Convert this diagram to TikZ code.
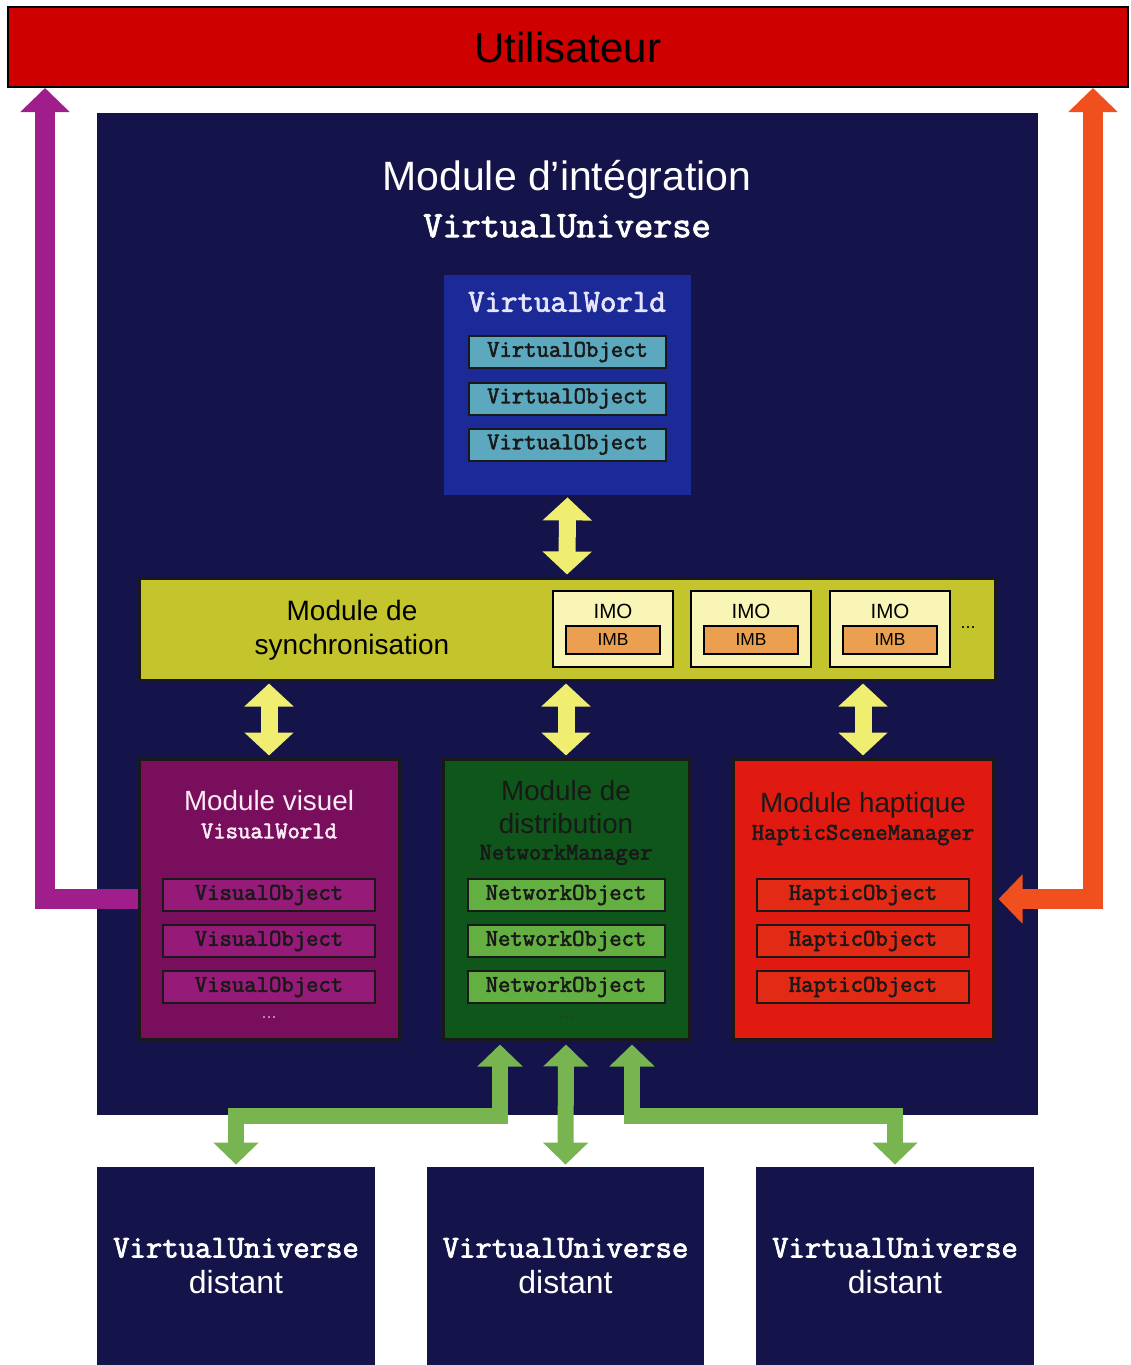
\documentclass[tikz,border=0pt]{standalone}
\usepackage{fontspec}
\setmainfont{Liberation Sans}
\setmonofont{Latin Modern Mono}[AutoFakeBold=2.5]
\usetikzlibrary{arrows.meta}

\definecolor{usrred}{RGB}{206,0,0}
\definecolor{navy}{RGB}{20,20,74}
\definecolor{vwblue}{RGB}{28,42,152}
\definecolor{vobj}{RGB}{92,168,190}
\definecolor{syncol}{RGB}{196,196,44}
\definecolor{imocol}{RGB}{249,245,182}
\definecolor{imbcol}{RGB}{234,160,80}
\definecolor{ylw}{RGB}{240,238,112}
\definecolor{viscol}{RGB}{120,14,92}
\definecolor{visobj}{RGB}{150,26,120}
\definecolor{distcol}{RGB}{14,86,26}
\definecolor{netobj}{RGB}{100,175,66}
\definecolor{hapcol}{RGB}{224,26,16}
\definecolor{hapobj}{RGB}{226,42,20}
\definecolor{purplearr}{RGB}{160,30,140}
\definecolor{orangearr}{RGB}{240,80,30}
\definecolor{greenarr}{RGB}{120,180,80}

\tikzset{
  panel/.style={draw=black!90, line width=1.5pt, inner sep=0pt},
  objbox/.style={draw=black!90, line width=1pt, inner sep=0pt,
    minimum height=16pt, text=black!90,
    font=\ttfamily\bfseries\fontsize{12}{14}\selectfont},
  lbl/.style={inner sep=0pt},
  sanstitle/.style={lbl, font=\fontsize{13.9}{16}\selectfont},
  monotitle/.style={lbl, font=\ttfamily\bfseries\fontsize{12}{14}\selectfont},
  yarrow/.style={draw=ylw, line width=8.5pt, line join=miter,
    {Triangle[width=24pt,length=11.5pt]}-{Triangle[width=24pt,length=11.5pt]},
    shorten <=1pt, shorten >=1pt},
  garrow/.style={draw=greenarr, line width=8pt, line join=miter,
    {Triangle[width=22pt,length=11pt]}-{Triangle[width=22pt,length=11pt]},
    shorten <=2pt, shorten >=1pt},
  parrow/.style={draw=purplearr, line width=10pt, line join=miter,
    -{Triangle[width=24pt,length=12pt]}},
  oarrow/.style={draw=orangearr, line width=10pt, line join=miter,
    {Triangle[width=24pt,length=12pt]}-{Triangle[width=24pt,length=12pt]},
    shorten >=2pt},
}

\begin{document}
\begin{tikzpicture}[x=0.5pt,y=-0.5pt]
\useasboundingbox (0,0) rectangle (1130,1365);

% user banner
\node[fill=usrred, draw=black, line width=1pt, inner sep=0pt,
  minimum width=560pt, minimum height=40pt,
  font=\fontsize{21}{24}\selectfont, text=black] (user) at (568,47) {Utilisateur};

% integration module
\node[fill=navy, inner sep=0pt, minimum width=470.5pt, minimum height=501pt] (integ) at (567.5,614) {};
\node[lbl, text=white, font=\fontsize{20.5}{24}\selectfont] (integt) at (567,180) {Module d’intégration};
\node[lbl, text=white, font=\ttfamily\bfseries\fontsize{18.6}{20}\selectfont] (integc) at (567,226) {VirtualUniverse};

% virtual world
\node[fill=vwblue, inner sep=0pt, minimum width=123.5pt, minimum height=110pt] (vw) at (567.5,385) {};
\node[lbl, text=white!90!blue, font=\ttfamily\bfseries\fontsize{16}{18}\selectfont] (vwt) at (567,302) {VirtualWorld};
\node[objbox, fill=vobj, minimum width=98.5pt] (vo1) at (567.5,352) {VirtualObject};
\node[objbox, fill=vobj, minimum width=98.5pt] (vo2) at (567.5,398.5) {VirtualObject};
\node[objbox, fill=vobj, minimum width=98.5pt] (vo3) at (567.5,444.5) {VirtualObject};

% synchronisation module
\node[panel, fill=syncol, minimum width=428pt, minimum height=51pt] (sync) at (567,629) {};
\node[lbl, align=center, text=black, font=\fontsize{14}{17}\selectfont] (synct) at (352,630)
  {Module de\\synchronisation};
\foreach \i/\x in {1/613,2/751,3/890}{
  \node[draw=black, line width=1pt, fill=imocol, inner sep=0pt,
    minimum width=60pt, minimum height=38pt] (imo\i) at (\x,629) {};
  \node[lbl, font=\fontsize{10.3}{12}\selectfont] (imot\i) at (\x,611) {IMO};
  \node[draw=black, line width=1pt, fill=imbcol, inner sep=0pt,
    minimum width=47pt, minimum height=14pt, font=\fontsize{8.7}{10}\selectfont] (imb\i) at (\x,640) {IMB};
}
\node[lbl, font=\fontsize{9}{10}\selectfont] (syncdots) at (968,628) {...};

% visual module
\node[panel, fill=viscol, minimum width=130pt, minimum height=140pt] (vis) at (269,899) {};
\node[sanstitle, text=white!92!magenta] (vist) at (269,801) {Module visuel};
\node[monotitle, text=white!92!magenta] (visc) at (269,831) {VisualWorld};
\node[objbox, fill=visobj, minimum width=106pt] (vis1) at (269,895) {VisualObject};
\node[objbox, fill=visobj, minimum width=106pt] (vis2) at (269,941) {VisualObject};
\node[objbox, fill=visobj, minimum width=106pt] (vis3) at (269,987) {VisualObject};
\node[lbl, text=viscol!40!white, font=\fontsize{9}{10}\selectfont] (visdots) at (269,1018) {...};

% distribution module
\node[panel, fill=distcol, minimum width=123pt, minimum height=140pt] (dist) at (566,899) {};
\node[sanstitle, text=black!90] (distt1) at (566,791) {Module de};
\node[sanstitle, text=black!90] (distt2) at (566,824) {distribution};
\node[monotitle, text=black!90] (distc) at (566,855) {NetworkManager};
\node[objbox, fill=netobj, minimum width=98.5pt] (net1) at (566,895) {NetworkObject};
\node[objbox, fill=netobj, minimum width=98.5pt] (net2) at (566,941) {NetworkObject};
\node[objbox, fill=netobj, minimum width=98.5pt] (net3) at (566,987) {NetworkObject};
\node[lbl, text=black!80, font=\fontsize{9}{10}\selectfont] (distdots) at (566,1018) {...};

% haptic module
\node[panel, fill=hapcol, minimum width=130pt, minimum height=140pt] (hap) at (863,899) {};
\node[sanstitle, text=black!90] (hapt) at (863,805) {Module haptique};
\node[monotitle, text=black!90] (hapc) at (863,835) {HapticSceneManager};
\node[objbox, fill=hapobj, minimum width=106pt] (hap1) at (863,895) {HapticObject};
\node[objbox, fill=hapobj, minimum width=106pt] (hap2) at (863,941) {HapticObject};
\node[objbox, fill=hapobj, minimum width=106pt] (hap3) at (863,987) {HapticObject};

% remote universes
\foreach \i/\x/\w in {1/236/139pt,2/565.5/138.5pt,3/895/139pt}{
  \node[fill=navy, inner sep=0pt, minimum width=\w, minimum height=99pt] (far\i) at (\x,1266) {};
  \node[lbl, text=white, font=\ttfamily\bfseries\fontsize{15.9}{18}\selectfont] (farc\i) at (\x,1248) {VirtualUniverse};
  \node[lbl, text=white, font=\fontsize{16}{18}\selectfont] (fard\i) at (\x,1282) {distant};
}

% synchronisation links
\draw[yarrow] (vw.south) -- (sync.north);
\draw[yarrow] (sync.south -| vis.north) -- (vis.north);
\draw[yarrow] (sync.south -| dist.north) -- (dist.north);
\draw[yarrow] (sync.south -| hap.north) -- (hap.north);

% user links
\coordinate (pL) at (45,0);
\coordinate (oR) at (1093,0);
\draw[parrow] (vis.west) -| (user.south -| pL);
\draw[oarrow] (user.south -| oR) |- (hap.east);

% network links
\coordinate (gL) at (500,1116);
\coordinate (gR) at (632,1116);
\draw[garrow] (dist.south -| gL) -- (gL) -| (far1.north);
\draw[garrow] (dist.south) -- (far2.north);
\draw[garrow] (dist.south -| gR) -- (gR) -| (far3.north);

\end{tikzpicture}
\end{document}
